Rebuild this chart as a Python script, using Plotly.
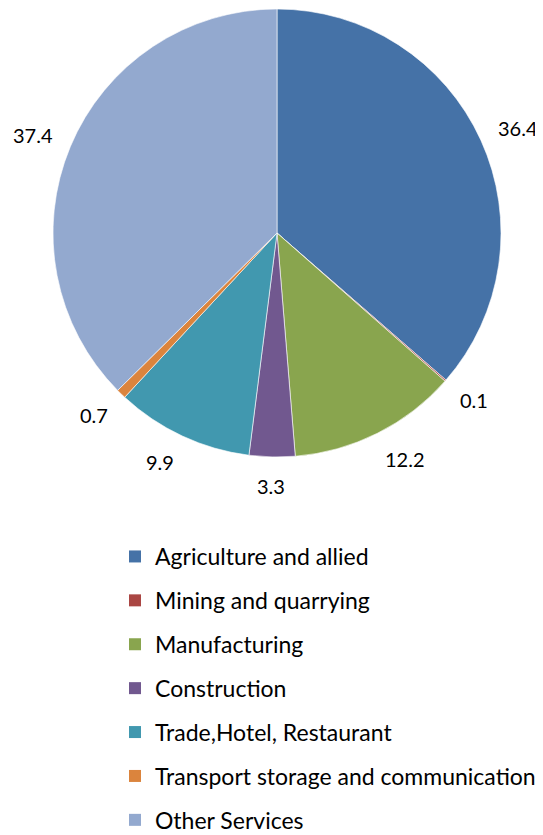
import math
import plotly.graph_objects as go

categories = ["Agriculture and allied", "Mining and quarrying", "Manufacturing",
              "Construction", "Trade,Hotel, Restaurant",
              "Transport storage and communication", "Other Services"]
values = [36.4, 0.1, 12.2, 3.3, 9.9, 0.7, 37.4]
value_labels = ["36.4", "0.1", "12.2", "3.3", "9.9", "0.7", "37.4"]
colors = ["#4572A7", "#AA4643", "#89A54E", "#71588F", "#4198AF", "#DB843D", "#93A9CF"]

FONT = "Lato"
PAGE_W, PAGE_H = 543, 835
OFF = 8                                   # default <body> margin of the html page
W, H = PAGE_W - OFF, PAGE_H - OFF         # figure size that exactly fills the window
CX, CY, R = 277, 233, 224                 # pie centre / radius in window pixels
GAP = 21                                  # gap between pie edge and label anchor
LABEL_FS = 20


def px2paper(px, py):
    return (px - OFF) / W, 1 - (py - OFF) / H


fig = go.Figure()
x0, y1 = px2paper(CX - R, CY - R)
x1, y0 = px2paper(CX + R, CY + R)
fig.add_trace(go.Pie(
    labels=categories, values=values,
    textinfo="none",
    marker=dict(colors=colors, line=dict(color="white", width=0.6)),
    sort=False, direction="clockwise", rotation=0,
    showlegend=False,
    domain=dict(x=[x0, x1], y=[y0, y1]),
    hoverinfo="label+value",
))

# data labels: "outside end" placement at each slice's mid-angle
total = sum(values)
cum = 0.0
for v, lab in zip(values, value_labels):
    mid = (cum + v / 2) / total * 2 * math.pi
    cum += v
    ux, uy = math.sin(mid), -math.cos(mid)
    tw = sum(5 if ch == "." else 10.5 for ch in lab)
    th = 16
    ax = CX + (R + GAP) * ux
    ay = CY + (R + GAP) * uy
    fx = max(-1.0, min(1.0, 3 * ux))
    px = ax + fx * tw / 2
    py = ay + uy * th / 2
    xp, yp = px2paper(px, py)
    fig.add_annotation(x=xp, y=yp, xref="paper", yref="paper",
                       text=lab, showarrow=False, xanchor="center", yanchor="middle",
                       font=dict(family=FONT, size=LABEL_FS, color="#000000"))

for i, (c, col) in enumerate(zip(categories, colors)):
    fig.add_trace(go.Scatter(
        x=[None], y=[None], mode="markers", name=c,
        marker=dict(symbol="square", size=13, color=col, line=dict(width=0)),
        legendgroup=f"g{i}", showlegend=True, hoverinfo="skip",
    ))

fig.update_layout(
    width=W, height=H,
    margin=dict(l=0, r=0, t=0, b=0, autoexpand=False),
    paper_bgcolor="white", plot_bgcolor="white",
    font=dict(family=FONT, size=20, color="#000000"),
    xaxis=dict(visible=False), yaxis=dict(visible=False),
    legend=dict(x=(115 - OFF) / W, y=-7 / H, xanchor="left", yanchor="bottom",
                tracegroupgap=11, itemsizing="constant",
                font=dict(family=FONT, size=23, color="#000000"),
                bgcolor="rgba(0,0,0,0)"),
)

fig.write_html("out.html")
